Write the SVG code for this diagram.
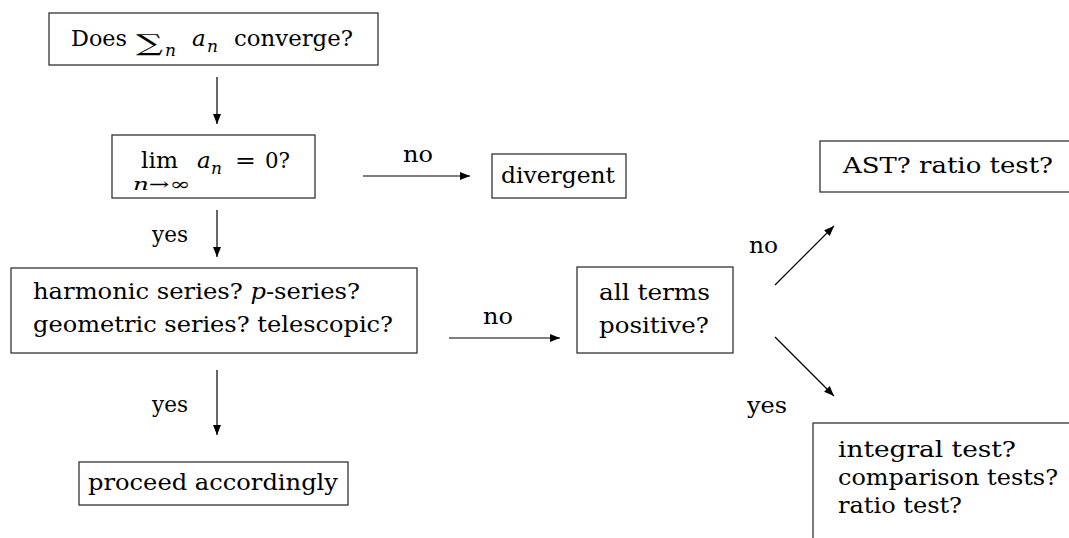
<svg xmlns="http://www.w3.org/2000/svg" width="1069" height="538" viewBox="0 0 1069 538">
<style>
text{font-family:"DejaVu Serif","Liberation Serif",serif;font-size:23px;fill:#000}
.m{font-style:italic}
.s{font-size:17px}
.box{fill:none;stroke:#333;stroke-width:1.3}
.c{stroke:#000;stroke-width:1.2;fill:none}
</style>
<defs>
<marker id="ah" markerUnits="userSpaceOnUse" markerWidth="10" markerHeight="8" refX="10" refY="4" orient="auto">
<path d="M0,0 L10,4 L0,8 z" fill="#000"/>
</marker>
</defs>
<rect width="1069" height="538" fill="#fff"/>
<g id="n-start">
<rect class="box" x="49" y="13" width="329" height="52"/>
<text x="71" y="46" textLength="56" lengthAdjust="spacingAndGlyphs">Does</text>
<text x="136" y="51" font-size="34" textLength="27" lengthAdjust="spacingAndGlyphs">∑</text>
<text class="m s" x="165" y="56">n</text>
<text class="m" x="192" y="46">a</text>
<text class="m s" x="207" y="52">n</text>
<text x="234" y="46" textLength="119" lengthAdjust="spacingAndGlyphs">converge?</text>
</g>
<g id="n-lim">
<rect class="box" x="112" y="135" width="203" height="63"/>
<text x="141" y="168" textLength="37" lengthAdjust="spacingAndGlyphs">lim</text>
<text class="s" x="133" y="190" textLength="57" lengthAdjust="spacingAndGlyphs"><tspan class="m">n</tspan>→∞</text>
<text class="m" x="197" y="168">a</text>
<text class="m s" x="211" y="174">n</text>
<text x="235" y="168" textLength="21" lengthAdjust="spacingAndGlyphs">=</text>
<text x="265" y="168" textLength="25" lengthAdjust="spacingAndGlyphs">0?</text>
</g>
<g id="n-divergent">
<rect class="box" x="492" y="154" width="134" height="44"/>
<text x="501" y="183" textLength="114" lengthAdjust="spacingAndGlyphs">divergent</text>
</g>
<g id="n-special">
<rect class="box" x="11" y="268" width="406" height="85"/>
<text x="33" y="299" textLength="327" lengthAdjust="spacingAndGlyphs">harmonic series? <tspan class="m">p</tspan>-series?</text>
<text x="33" y="332" textLength="360" lengthAdjust="spacingAndGlyphs">geometric series? telescopic?</text>
</g>
<g id="n-proceed">
<rect class="box" x="79" y="462" width="269" height="43"/>
<text x="88" y="490" textLength="250" lengthAdjust="spacingAndGlyphs">proceed accordingly</text>
</g>
<g id="n-positive">
<rect class="box" x="577" y="267" width="156" height="86"/>
<text x="599" y="300" textLength="111" lengthAdjust="spacingAndGlyphs">all terms</text>
<text x="599" y="333" textLength="110" lengthAdjust="spacingAndGlyphs">positive?</text>
</g>
<g id="n-ast">
<rect class="box" x="820" y="141" width="260" height="51"/>
<text x="843" y="173" textLength="210" lengthAdjust="spacingAndGlyphs">AST? ratio test?</text>
</g>
<g id="n-tests">
<rect class="box" x="813" y="423" width="270" height="130"/>
<text x="838" y="457" textLength="178" lengthAdjust="spacingAndGlyphs">integral test?</text>
<text x="838" y="485" textLength="220" lengthAdjust="spacingAndGlyphs">comparison tests?</text>
<text x="838" y="513" textLength="124" lengthAdjust="spacingAndGlyphs">ratio test?</text>
</g>
<g id="connectors">
<line class="c" x1="217" y1="77" x2="217" y2="124" marker-end="url(#ah)"/>
<line class="c" x1="363" y1="176" x2="470" y2="176" marker-end="url(#ah)"/>
<line class="c" x1="217" y1="210" x2="217" y2="257" marker-end="url(#ah)"/>
<line class="c" x1="449" y1="338" x2="560" y2="338" marker-end="url(#ah)"/>
<line class="c" x1="217" y1="370" x2="217" y2="435" marker-end="url(#ah)"/>
<line class="c" x1="775" y1="285" x2="834" y2="226" marker-end="url(#ah)"/>
<line class="c" x1="775" y1="337" x2="834" y2="396" marker-end="url(#ah)"/>
<text x="403" y="162" textLength="30" lengthAdjust="spacingAndGlyphs">no</text>
<text x="152" y="242" textLength="36" lengthAdjust="spacingAndGlyphs">yes</text>
<text x="483" y="324" textLength="30" lengthAdjust="spacingAndGlyphs">no</text>
<text x="152" y="412" textLength="36" lengthAdjust="spacingAndGlyphs">yes</text>
<text x="749" y="253" textLength="29" lengthAdjust="spacingAndGlyphs">no</text>
<text x="747" y="413" textLength="40" lengthAdjust="spacingAndGlyphs">yes</text>
</g>
</svg>
